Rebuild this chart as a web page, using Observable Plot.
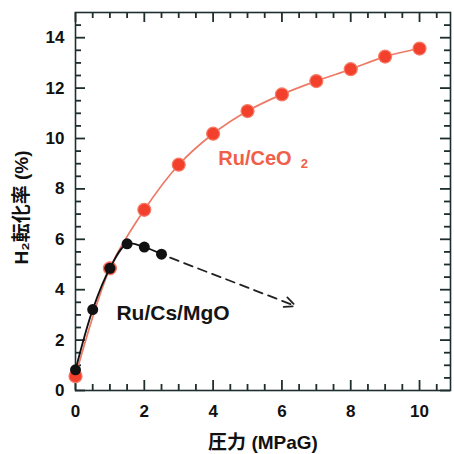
<!DOCTYPE html>
<html><head><meta charset="utf-8">
<script src="https://cdn.jsdelivr.net/npm/d3@7"></script>
<script src="https://cdn.jsdelivr.net/npm/@observablehq/plot@0.6"></script>
<style>body{margin:0;background:#fff}</style>
</head><body><div id="chart"></div>
<script>
const pressureCeO2 = [0, 1, 2, 3, 4, 5, 6, 7, 8, 9, 10];
const conversionCeO2 = [0.57, 4.85, 7.17, 8.96, 10.19, 11.09, 11.75, 12.28, 12.75, 13.25, 13.57];
const pressureMgO = [0, 0.5, 1, 1.5, 2, 2.5];
const conversionMgO = [0.82, 3.21, 4.85, 5.82, 5.69, 5.41];
const xMajorTicks = [0, 2, 4, 6, 8, 10];
const yMajorTicks = [0, 2, 4, 6, 8, 10, 12, 14];
const xMinorTicks = [0.5, 1, 1.5, 2.5, 3, 3.5, 4.5, 5, 5.5, 6.5, 7, 7.5, 8.5, 9, 9.5, 10.5];
const yMinorTicks = [0.5, 1, 1.5, 2.5, 3, 3.5, 4.5, 5, 5.5, 6.5, 7, 7.5, 8.5, 9, 9.5, 10.5, 11, 11.5, 12.5, 13, 13.5, 14.5];
const trendArrow = [{x1: 2.75, y1: 5.27, x2: 6.4, y2: 3.35}];
const seriesLabels = [
  {x: 4.15, y: 9.2, text: "Ru/CeO", color: "#f06048", size: 20},
  {x: 1.19, y: 3.07, text: "Ru/Cs/MgO", color: "#151515", size: 21}
];
const subLabel = [{x: 6.65, y: 8.98, text: "2"}];
const xTitle = "圧力 (MPaG)";
const yTitle = "H₂転化率 (%)";

const ceo2 = pressureCeO2.map((x, i) => ({x, y: conversionCeO2[i]}));
const mgo = pressureMgO.map((x, i) => ({x, y: conversionMgO[i]}));

const W = 454, H = 454, ML = 75, MR = 4, MT = 12, MB = 64;
const xDomain = [0, 10.9], yDomain = [0, 15];
const innerW = W - ML - MR, innerH = H - MT - MB;
const major = 10, minor = 6;
const axisColor = "#1e2e2e";
const font = "'Liberation Sans', Arial, 'Noto Sans CJK JP', sans-serif";
const tickStyle = {stroke: axisColor, strokeWidth: 1.8};

const chart = Plot.plot({
  width: W,
  height: H,
  marginLeft: ML,
  marginRight: MR,
  marginTop: MT,
  marginBottom: MB,
  style: {fontFamily: font, background: "#fff"},
  x: {domain: xDomain, axis: null},
  y: {domain: yDomain, axis: null},
  marks: [
    // inward ticks on all four sides
    Plot.tickX(xMajorTicks, {x: d => d, insetTop: innerH - major, ...tickStyle}),
    Plot.tickX(xMinorTicks, {x: d => d, insetTop: innerH - minor, ...tickStyle}),
    Plot.tickX(xMajorTicks, {x: d => d, insetBottom: innerH - major, ...tickStyle}),
    Plot.tickX(xMinorTicks, {x: d => d, insetBottom: innerH - minor, ...tickStyle}),
    Plot.tickY(yMajorTicks, {y: d => d, insetRight: innerW - major, ...tickStyle}),
    Plot.tickY(yMinorTicks, {y: d => d, insetRight: innerW - minor, ...tickStyle}),
    Plot.tickY(yMajorTicks, {y: d => d, insetLeft: innerW - major, ...tickStyle}),
    Plot.tickY(yMinorTicks, {y: d => d, insetLeft: innerW - minor, ...tickStyle}),
    // tick labels
    Plot.axisX({anchor: "bottom", ticks: xMajorTicks, tickSize: 0, tickPadding: 14, fontSize: 17, fontWeight: "bold", fill: "#111", label: null}),
    Plot.axisY({anchor: "left", ticks: yMajorTicks, tickSize: 0, tickPadding: 11, fontSize: 17, fontWeight: "bold", fill: "#111", label: null}),
    Plot.frame({stroke: axisColor, strokeWidth: 1.6}),
    // series
    Plot.line(ceo2, {x: "x", y: "y", curve: "catmull-rom", stroke: "#ec7a66", strokeWidth: 1.7}),
    Plot.dot(ceo2, {x: "x", y: "y", r: 6.5, fill: "#f2402c", stroke: "#f67c68", strokeWidth: 1.2}),
    Plot.line(mgo, {x: "x", y: "y", curve: "catmull-rom", stroke: "#111", strokeWidth: 1.8}),
    Plot.dot(mgo, {x: "x", y: "y", r: 5.5, fill: "#111"}),
    Plot.arrow(trendArrow, {x1: "x1", y1: "y1", x2: "x2", y2: "y2", stroke: "#222", strokeWidth: 1.8, strokeDasharray: "9,6", headLength: 10, headAngle: 50}),
    // labels
    Plot.text(seriesLabels, {x: "x", y: "y", text: "text", fill: "color", fontSize: "size", textAnchor: "start", fontWeight: "bold"}),
    Plot.text(subLabel, {x: "x", y: "y", text: "text", fill: "#f06048", fontSize: 13, fontWeight: "bold", textAnchor: "middle"}),
    // axis titles
    Plot.text([xTitle], {frameAnchor: "bottom", dy: 58, text: d => d, fontSize: 19, fontWeight: "bold", fill: "#111"}),
    Plot.text([yTitle], {frameAnchor: "left", textAnchor: "middle", dx: -54, dy: 6, rotate: -90, text: d => d, fontSize: 19, fontWeight: "bold", fill: "#111"})
  ]
});
document.getElementById("chart").appendChild(chart);
</script>
</body></html>
